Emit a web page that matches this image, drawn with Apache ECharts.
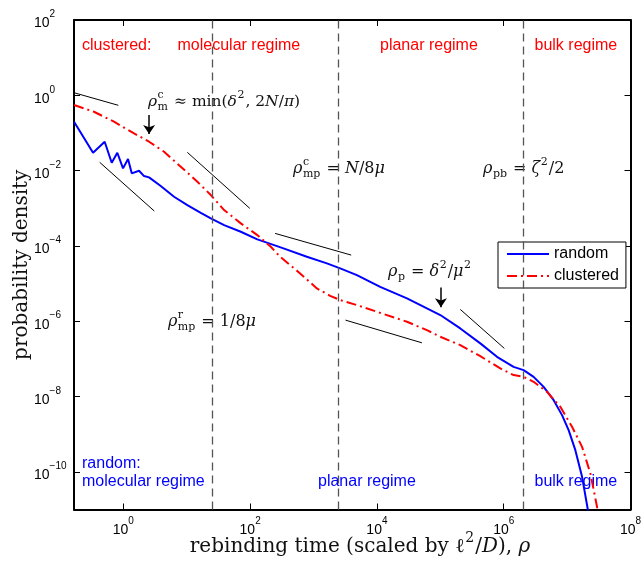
<!DOCTYPE html>
<html>
<head>
<meta charset="utf-8">
<script src="https://cdn.jsdelivr.net/npm/echarts@6/dist/echarts.min.js"></script>
<style>
  html, body { margin: 0; padding: 0; background: #fff; }
  #chart { width: 642px; height: 564px; }
</style>
</head>
<body>
<div id="chart"></div>
<script>
// Rebinding-time densities for the random and the clustered arrangement
const randomRho = [0.167, 0.333, 0.508, 0.656, 0.804, 0.989, 1.186, 1.358, 1.770, 2.123, 2.547, 3.890,
  6.31, 10.23, 16.67, 24.0, 38.9, 71.3, 130, 239, 336, 785, 1626, 2636, 4831, 11270, 29790, 61520,
  1.0e5, 2.065e5, 4.276e5, 7.83e5, 1.432e6, 2.06e6, 2.965e6, 4.266e6, 6.14e6, 8.32e6, 1.057e7,
  1.349e7, 1.722e7, 2.109e7, 2.24e7];
const randomDensity = [0.199, 0.0298, 0.0585, 0.01618, 0.0298, 0.01148, 0.02028, 8.45e-3, 9.91e-3,
  7.16e-3, 6.62e-3, 3.89e-3, 2.02e-3, 1.216e-3, 7.59e-4, 5.40e-4, 3.58e-4, 2.38e-4, 1.49e-4, 1.05e-4,
  8.61e-5, 5.14e-5, 3.44e-5, 2.53e-5, 1.68e-5, 8.20e-6, 4.04e-6, 2.19e-6, 1.46e-6, 6.44e-7, 2.58e-7,
  1.135e-7, 6.15e-8, 5.02e-8, 3.33e-8, 1.81e-8, 8.02e-9, 3.21e-9, 1.28e-9, 3.77e-10, 7.36e-11,
  1.06e-11, 5.0e-12];

const clusteredRho = [0.167, 0.344, 0.713, 1.476, 2.547, 4.39, 8.05, 14.73, 24.0, 38.9, 71.3, 130,
  212, 298, 615, 1130, 1832, 2636, 4831, 11270, 29790, 61520, 1.0e5, 2.065e5, 4.276e5, 8.83e5,
  1.432e6, 2.06e6, 2.965e6, 4.83e6, 7.82e6, 1.197e7, 1.722e7, 2.33e7, 2.97e7, 3.09e7];
const clusteredDensity = [0.552, 0.366, 0.199, 0.0977, 0.0585, 0.0317, 0.0127, 5.06e-3, 2.24e-3,
  8.95e-4, 3.97e-4, 1.94e-4, 9.48e-5, 5.14e-5, 1.86e-5, 7.45e-6, 4.73e-6, 3.64e-6, 2.68e-6, 1.67e-6,
  9.66e-7, 5.81e-7, 3.86e-7, 2.32e-7, 1.18e-7, 5.58e-8, 3.71e-8, 3.33e-8, 2.46e-8, 1.33e-8, 5.32e-9,
  1.57e-9, 4.61e-10, 9.06e-11, 1.17e-11, 5e-12];

// Regime boundaries: 1/8μ, N/8μ and ζ²/2
const boundaryRho = [25, 2500, 2e6];

// Power-law guide segments, each [[ρ1, p1], [ρ2, p2]]
const guideSegments = [
  [[0.167, 1.17], [0.834, 0.542]],
  [[0.424, 1.66e-2], [3.08, 8.43e-4]],
  [[10.23, 3.05e-2], [98.9, 9.93e-4]],
  [[248, 2.15e-4], [3930, 5.71e-5]],
  [[3194, 1.07e-6], [51290, 2.67e-7]],
  [[2.065e5, 2.06e-6], [1.023e6, 1.90e-7]]
];

// Arrows marking the crossovers ρ_m^c and ρ_p
const arrowSegments = [
  [[2.55, 0.299], [2.55, 0.0935]],
  [[1.023e5, 7.91e-6], [1.023e5, 2.34e-6]]
];

const xTicks = [1, 1e2, 1e4, 1e6, 1e8];
const yTicks = [1e-10, 1e-8, 1e-6, 1e-4, 1e-2, 1, 1e2];
const xRange = [0.1667, 1e8];
const yRange = [1e-11, 1e2];

const SANS = '"Liberation Sans", Arial, Helvetica, sans-serif';
const SERIF = '"DejaVu Serif", serif';
const TEXT = '#111';

const toPairs = (xs, ys) => xs.map((x, i) => [x, ys[i]]);

const expLabel = v => {
  const e = Math.round(Math.log10(v));
  return '{b|10}{e|' + (e < 0 ? '\u2212' + (-e) : e) + '}';
};
const tickRich = {
  b: { fontFamily: SANS, fontSize: 14, color: '#000', verticalAlign: 'bottom', lineHeight: 21 },
  e: { fontFamily: SANS, fontSize: 10, color: '#000', verticalAlign: 'top', lineHeight: 21 }
};

function logAxis(extra) {
  return Object.assign({
    type: 'log',
    logBase: 10,
    axisLine: { show: true, onZero: false, lineStyle: { color: '#000', width: 2 } },
    splitLine: { show: false },
    minorTick: { show: false },
    minorSplitLine: { show: false }
  }, extra);
}
const tickStyle = vals => ({
  show: true, inside: true, length: 6, customValues: vals,
  lineStyle: { color: '#000', width: 1 }
});

// Simple math typesetting: pieces laid out left to right, y is the middle of the main line
const meas = document.createElement('canvas').getContext('2d');
function widthOf(str, font) { meas.font = font; return meas.measureText(str).width; }
function mathRun(x, y, size, pieces, color) {
  const els = [];
  const small = Math.round(size * 0.68);
  const fnt = (it, s) => (it ? 'italic ' : '') + s + 'px ' + SERIF;
  const put = (t, px, py, f) => els.push({
    type: 'text', x: px, y: py, silent: true,
    style: { text: t, font: f, fill: color, align: 'left', verticalAlign: 'middle' }
  });
  let cx = x;
  pieces.forEach(p => {
    if (p.sup !== undefined || p.sub !== undefined) {
      let adv = 0;
      if (p.sup) { const f = fnt(false, small); put(p.sup, cx + 0.5, y - size * 0.42, f); adv = Math.max(adv, widthOf(p.sup, f)); }
      if (p.sub) { const f = fnt(false, small); put(p.sub, cx + 0.5, y + size * 0.32, f); adv = Math.max(adv, widthOf(p.sub, f)); }
      cx += adv + 1.5;
    } else {
      const f = fnt(p.i, size);
      put(p.t, cx, y, f);
      cx += widthOf(p.t, f);
    }
  });
  return { els, width: cx - x };
}
function mathAt(x, y, size, pieces, anchor) {
  const w = mathRun(0, y, size, pieces, TEXT).width;
  const x0 = anchor === 'center' ? x - w / 2 : anchor === 'right' ? x - w : x;
  return mathRun(x0, y, size, pieces, TEXT).els;
}

const mathLabels = [].concat(
  mathAt(148, 102, 15.5, [{ t: 'ρ', i: 1 }, { sup: 'c', sub: 'm' }, { t: ' ≈ min(' }, { t: 'δ', i: 1 }, { sup: '2' },
    { t: ', 2' }, { t: 'N', i: 1 }, { t: '/' }, { t: 'π', i: 1 }, { t: ')' }]),
  mathAt(293, 169, 16, [{ t: 'ρ', i: 1 }, { sup: 'c', sub: 'mp' }, { t: ' = ' }, { t: 'N', i: 1 }, { t: '/8' }, { t: 'μ', i: 1 }]),
  mathAt(483, 169, 16, [{ t: 'ρ', i: 1 }, { sub: 'pb' }, { t: ' = ' }, { t: 'ζ', i: 1 }, { sup: '2' }, { t: '/2' }]),
  mathAt(388, 272, 16, [{ t: 'ρ', i: 1 }, { sub: 'p' }, { t: ' = ' }, { t: 'δ', i: 1 }, { sup: '2' }, { t: '/' }, { t: 'μ', i: 1 }, { sup: '2' }]),
  mathAt(256, 322, 16, [{ t: 'ρ', i: 1 }, { sup: 'r', sub: 'mp' }, { t: ' = 1/8' }, { t: 'μ', i: 1 }], 'right'),
  mathAt(360, 547, 20, [{ t: 'rebinding time (scaled by ' }, { t: 'ℓ' }, { sup: '2' }, { t: '/' }, { t: 'D', i: 1 },
    { t: '), ' }, { t: 'ρ', i: 1 }], 'center')
);

const regimeText = (x, y, text, color) => ({
  type: 'text', x, y, silent: true,
  style: { text, font: '16px ' + SANS, fill: color, align: 'left', verticalAlign: 'middle' }
});
const regimeLabels = [
  regimeText(82, 46, 'clustered:', '#ff0000'),
  regimeText(177.5, 46, 'molecular regime', '#ff0000'),
  regimeText(380, 46, 'planar regime', '#ff0000'),
  regimeText(534.5, 46, 'bulk regime', '#ff0000'),
  regimeText(82, 464, 'random:', '#0000ff'),
  regimeText(82, 482, 'molecular regime', '#0000ff'),
  regimeText(318, 482, 'planar regime', '#0000ff'),
  regimeText(534.5, 482, 'bulk regime', '#0000ff')
];

const chart = echarts.init(document.getElementById('chart'), null, { renderer: 'canvas' });
chart.setOption({
  animation: false,
  backgroundColor: '#fff',
  grid: { left: 74, right: 11.5, top: 20, bottom: 54.5, containLabel: false, outerBoundsMode: 'none' },
  legend: {
    data: ['random', 'clustered'],
    orient: 'vertical',
    left: 498, top: 242,
    padding: [3, 7, 3, 8],
    itemGap: 4,
    itemWidth: 42, itemHeight: 12,
    backgroundColor: '#fff',
    borderColor: '#000', borderWidth: 1,
    itemStyle: { opacity: 0 },
    textStyle: { fontFamily: SANS, fontSize: 16, color: '#000', lineHeight: 18 }
  },
  xAxis: [
    logAxis({
      position: 'bottom', min: xRange[0], max: xRange[1],
      axisTick: tickStyle(xTicks),
      axisLabel: { customValues: xTicks, formatter: expLabel, rich: tickRich, margin: 7, showMinLabel: true, showMaxLabel: true }
    }),
    logAxis({
      position: 'top', min: xRange[0], max: xRange[1],
      axisTick: tickStyle(xTicks),
      axisLabel: { show: false }
    })
  ],
  yAxis: [
    logAxis({
      position: 'left', min: yRange[0], max: yRange[1],
      axisTick: tickStyle(yTicks),
      axisLabel: { customValues: yTicks, formatter: expLabel, rich: tickRich, align: 'left', margin: 40, showMinLabel: true, showMaxLabel: true },
      name: 'probability density', nameLocation: 'middle', nameGap: 42, nameMoveOverlap: false,
      nameTextStyle: { fontFamily: SERIF, fontSize: 20, color: TEXT }
    }),
    logAxis({
      position: 'right', min: yRange[0], max: yRange[1],
      axisTick: tickStyle(yTicks),
      axisLabel: { show: false }
    })
  ],
  graphic: regimeLabels.concat(mathLabels),
  series: [
    {
      name: 'guides', type: 'line', data: [], silent: true,
      markLine: {
        silent: true, symbol: ['none', 'none'], label: { show: false }, animation: false,
        data: boundaryRho.map(v => ({ xAxis: v, lineStyle: { color: '#555', width: 1.3, type: [8, 5] } }))
          .concat(guideSegments.map(s => [
            { coord: s[0], lineStyle: { color: '#000', width: 1, type: 'solid' } },
            { coord: s[1], lineStyle: { color: '#000', width: 1, type: 'solid' } }
          ]))
      }
    },
    {
      name: 'random', type: 'line', data: toPairs(randomRho, randomDensity),
      symbol: 'none', showSymbol: false, clip: true,
      lineStyle: { color: '#0000ff', width: 2 }, itemStyle: { color: '#0000ff' }
    },
    {
      name: 'clustered', type: 'line', data: toPairs(clusteredRho, clusteredDensity),
      symbol: 'none', showSymbol: false, clip: true,
      lineStyle: { color: '#ff0000', width: 2, type: [10, 4, 2, 4] }, itemStyle: { color: '#ff0000' }
    },
    {
      name: 'arrows', type: 'line', data: [], silent: true,
      markLine: {
        silent: true, symbol: ['none', 'arrow'], symbolSize: 9, label: { show: false }, animation: false,
        itemStyle: { color: '#000' },
        data: arrowSegments.map(s => [
          { coord: s[0], lineStyle: { color: '#000', width: 1.5, type: 'solid' }, itemStyle: { color: '#000' } },
          { coord: s[1], lineStyle: { color: '#000', width: 1.5, type: 'solid' }, itemStyle: { color: '#000' } }
        ])
      }
    }
  ]
});
</script>
</body>
</html>
